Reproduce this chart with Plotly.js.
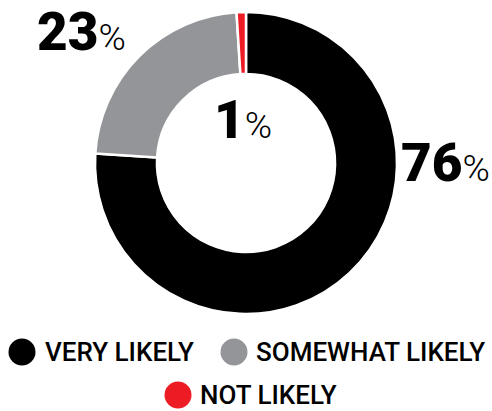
<!DOCTYPE html>
<html><head><meta charset="utf-8">
<script src="https://cdn.plot.ly/plotly-3.0.1.min.js"></script>
<style>html,body{margin:0;padding:0;background:#fff}#chart{width:492px;height:411px}</style>
</head><body><div id="chart"></div>
<script>
const categories = ["VERY LIKELY", "SOMEWHAT LIKELY", "NOT LIKELY"];
const values = [76, 23, 1];
const colors = ["#000000", "#939598", "#ed1c24"];

const W = 492, H = 411;
const px = (x) => x / W, py = (y) => 1 - y / H;

const pctText = v => v + "<span style='font-weight:300;font-size:37px'>%</span>";
const labelPos = [
  {x: 400, y: 163},
  {x: 36, y: 32},
  {x: 213, y: 120}
];
const numFont = {family: "Roboto, Lato, sans-serif", size: 53, color: "#000", weight: 900};

const annotations = values.map((v, i) => ({
  xref: "paper", yref: "paper", x: px(labelPos[i].x), y: py(labelPos[i].y),
  xanchor: "left", yanchor: "middle", showarrow: false, borderpad: 0,
  text: pctText(v), font: numFont
}));

// legend built from categories
const legendPos = [
  {cx: 22, cy: 352, tx: 43},
  {cx: 234, cy: 352, tx: 254},
  {cx: 178, cy: 395, tx: 198}
];
const shapes = [];
categories.forEach((c, i) => {
  const p = legendPos[i], r = 13.5;
  shapes.push({type: "circle", xref: "paper", yref: "paper",
    x0: px(p.cx - r), x1: px(p.cx + r), y0: py(p.cy + r), y1: py(p.cy - r),
    fillcolor: colors[i], line: {width: 0}});
  annotations.push({xref: "paper", yref: "paper", x: px(p.tx), y: py(p.cy),
    xanchor: "left", yanchor: "middle", showarrow: false, text: c,
    font: {family: "Roboto, sans-serif", size: 26, color: "#000", weight: 500}});
});

const data = [{
  type: "pie", labels: categories, values: values, sort: false,
  direction: "clockwise", rotation: 0, hole: 0.59,
  marker: {colors: colors, line: {color: "#fff", width: 2.5}},
  textinfo: "none", hoverinfo: "none", showlegend: false,
  domain: {x: [px(95), px(397)], y: [py(314), py(12)]}
}];

const layout = {
  width: W, height: H, margin: {l: 0, r: 0, t: 0, b: 0},
  paper_bgcolor: "#fff", plot_bgcolor: "#fff", showlegend: false,
  annotations: annotations, shapes: shapes
};
Plotly.newPlot("chart", data, layout, {displayModeBar: false, staticPlot: true});
</script></body></html>
